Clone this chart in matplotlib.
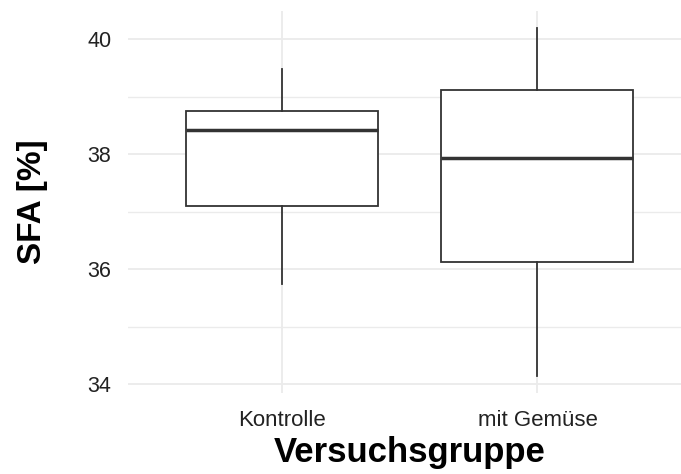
import matplotlib
matplotlib.use("Agg")
import matplotlib.pyplot as plt

# Fettsaeure-Anteil (SFA) je Versuchsgruppe, Kennwerte der Boxplots
groups = ["Kontrolle", "mit Gemüse"]
whisker_low = [35.74, 34.15]
q1 = [37.10, 36.13]
median = [38.42, 37.93]
q3 = [38.76, 39.12]
whisker_high = [39.48, 40.19]

y_ticks = [34, 36, 38, 40]
y_minor = [35, 37, 39]

plt.rcParams['font.family'] = ['Liberation Sans', 'DejaVu Sans']

box_col = "#333333"
grid_col = "#ebebeb"

fig = plt.figure(figsize=(6.81, 4.74), dpi=100)
ax = fig.add_axes([128 / 681, 1 - 393 / 474, 563 / 681, 382 / 474])

stats = []
for i, g in enumerate(groups):
    stats.append({
        "label": g,
        "whislo": whisker_low[i],
        "q1": q1[i],
        "med": median[i],
        "q3": q3[i],
        "whishi": whisker_high[i],
        "fliers": [],
    })

positions = list(range(1, len(groups) + 1))
ax.bxp(stats, positions=positions, widths=0.75, showcaps=False,
       patch_artist=True,
       boxprops=dict(facecolor="white", edgecolor=box_col, linewidth=1.3),
       whiskerprops=dict(color=box_col, linewidth=1.3),
       medianprops=dict(color=box_col, linewidth=2.5, solid_capstyle="butt"),
       zorder=3)

# ggplot-artige Achsenbereiche (5 % bzw. 0.6 Einheiten Rand)
lo, hi = min(whisker_low), max(whisker_high)
pad = (hi - lo) * 0.05
ax.set_ylim(lo - pad, hi + pad)
ax.set_xlim(0.4, len(groups) + 0.6)

ax.set_yticks(y_ticks)
ax.set_yticks(y_minor, minor=True)
ax.set_xticks(positions)
ax.set_xticklabels(groups)

ax.grid(True, which="major", color=grid_col, linewidth=1.3, zorder=0)
ax.grid(True, which="minor", axis="y", color=grid_col, linewidth=1.0, zorder=0)
ax.set_axisbelow(True)

for s in ax.spines.values():
    s.set_visible(False)
ax.tick_params(which="both", length=0)
ax.tick_params(axis="y", labelsize=15.5, labelcolor="#222222", pad=12)
ax.tick_params(axis="x", labelsize=16, labelcolor="#222222", pad=12)

ax.set_xlabel("Versuchsgruppe", fontsize=25, fontweight="bold", labelpad=4)
ax.set_ylabel("SFA [%]", fontsize=24, fontweight="bold", labelpad=28)

fig.savefig("out.png", dpi=100, facecolor="white")
